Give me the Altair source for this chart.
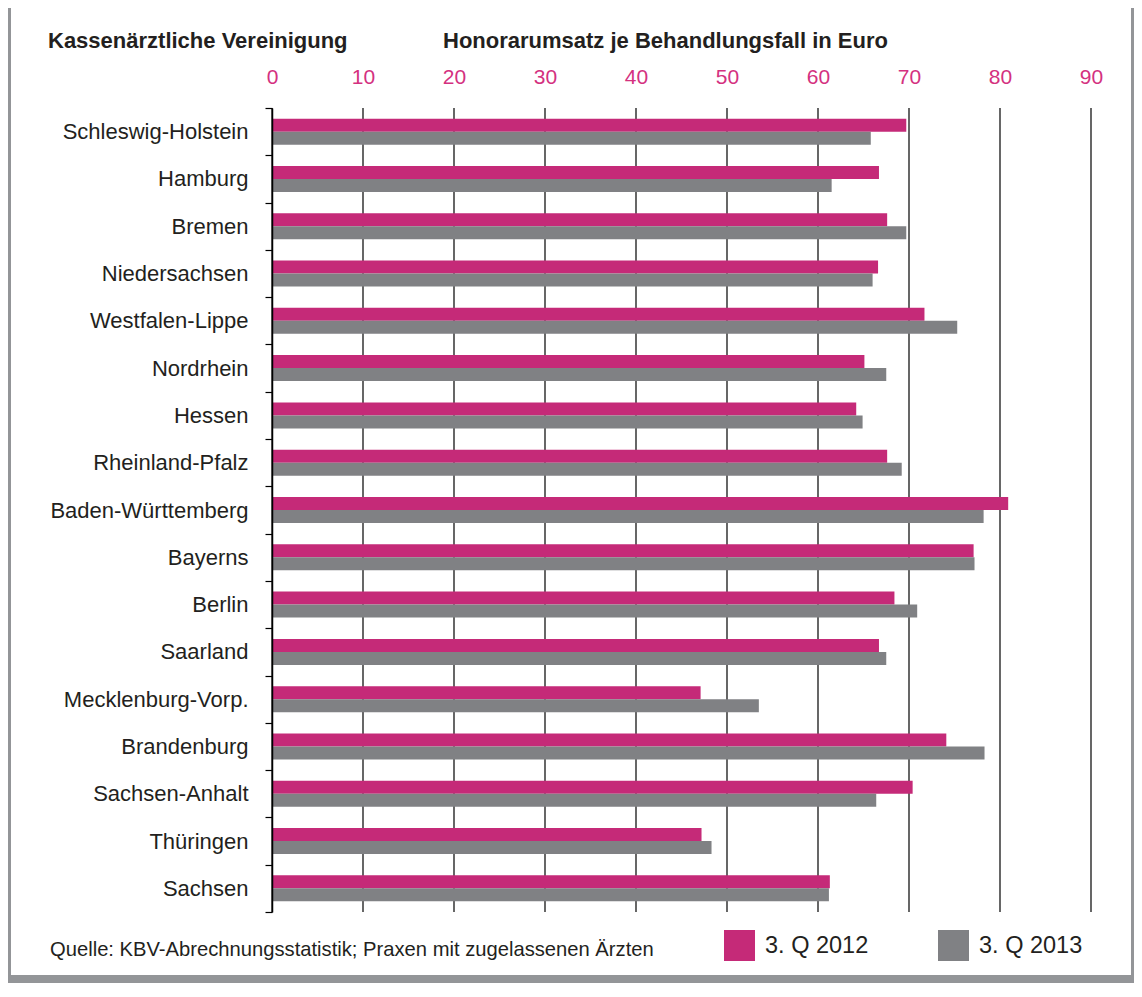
import altair as alt
import pandas as pd

# ---------------- data ----------------
regions = ["Schleswig-Holstein", "Hamburg", "Bremen", "Niedersachsen", "Westfalen-Lippe",
           "Nordrhein", "Hessen", "Rheinland-Pfalz", "Baden-Württemberg", "Bayerns",
           "Berlin", "Saarland", "Mecklenburg-Vorp.", "Brandenburg", "Sachsen-Anhalt",
           "Thüringen", "Sachsen"]
q2012 = [69.7, 66.7, 67.6, 66.6, 71.7, 65.1, 64.2, 67.6, 80.9, 77.1,
         68.4, 66.7, 47.1, 74.1, 70.4, 47.2, 61.3]
q2013 = [65.8, 61.5, 69.7, 66.0, 75.3, 67.5, 64.9, 69.2, 78.2, 77.2,
         70.9, 67.5, 53.5, 78.3, 66.4, 48.3, 61.2]
series = ["3. Q 2012", "3. Q 2013"]
x_ticks = [0, 10, 20, 30, 40, 50, 60, 70, 80, 90]
title_left = "Kassenärztliche Vereinigung"
title_right = "Honorarumsatz je Behandlungsfall in Euro"
source = "Quelle: KBV-Abrechnungsstatistik; Praxen mit zugelassenen Ärzten"

rows = []
for r, a, b in zip(regions, q2012, q2013):
    rows.append({"region": r, "series": series[0], "value": a})
    rows.append({"region": r, "series": series[1], "value": b})
df = pd.DataFrame(rows)

# ---------------- style ----------------
FONT = "Liberation Sans"
PINK = "#c52a78"
GRAY = "#808184"
TEXT = "#231f20"
W, H = 819, 804

one = pd.DataFrame({"k": [0]})

panel = alt.Chart(one).mark_rect(color="white").encode(
    x=alt.value(-261), x2=alt.value(859), y=alt.value(-108), y2=alt.value(867)
)

grid = alt.Chart(pd.DataFrame({"tick": x_ticks})).mark_rule(
    color="black", strokeWidth=1.2
).encode(x=alt.X("tick:Q", scale=alt.Scale(domain=[0, 90], nice=False)))

bars = alt.Chart(df).mark_bar(opacity=1).encode(
    x=alt.X("value:Q",
            scale=alt.Scale(domain=[0, 90], nice=False, zero=True),
            axis=alt.Axis(orient="top", values=x_ticks, title=None, grid=False,
                          ticks=False, tickSize=0, domain=False,
                          labelColor="#d4317f", labelFont=FONT, labelFontSize=21,
                          labelPadding=21, labelFlush=False, zindex=1)),
    y=alt.Y("region:N", sort=regions,
            scale=alt.Scale(paddingInner=0, paddingOuter=0),
            axis=alt.Axis(title=None, tickBand="extent", tickSize=7, tickColor="black",
                          tickWidth=1.2, domainColor="black", domainWidth=1.5,
                          labelFont=FONT, labelFontSize=22, labelColor=TEXT,
                          labelPadding=17, labelLimit=0, grid=False, zindex=1)),
    yOffset=alt.YOffset("series:N", sort=series,
                        scale=alt.Scale(paddingOuter=0.82, paddingInner=0)),
    color=alt.Color("series:N",
                    scale=alt.Scale(domain=series, range=[PINK, GRAY]),
                    legend=alt.Legend(orient="none", legendX=452, legendY=822,
                                      direction="horizontal", title=None,
                                      symbolType="square", symbolSize=961,
                                      symbolStrokeWidth=0, symbolOpacity=1,
                                      labelFont=FONT, labelFontSize=23.5,
                                      labelColor=TEXT, labelOffset=10, labelLimit=0,
                                      columnPadding=69, padding=0)),
)

t_left = alt.Chart(pd.DataFrame({"t": [title_left]})).mark_text(
    font=FONT, fontSize=22, fontWeight="bold", color=TEXT, align="left", baseline="alphabetic"
).encode(text="t:N", x=alt.value(-224), y=alt.value(-60))

t_right = alt.Chart(pd.DataFrame({"t": [title_right]})).mark_text(
    font=FONT, fontSize=22, fontWeight="bold", color=TEXT, align="left", baseline="alphabetic"
).encode(text="t:N", x=alt.value(171), y=alt.value(-60))

t_src = alt.Chart(pd.DataFrame({"t": [source]})).mark_text(
    font=FONT, fontSize=20.2, color=TEXT, align="left", baseline="alphabetic"
).encode(text="t:N", x=alt.value(-222), y=alt.value(848))

chart = alt.layer(panel, grid, bars, t_left, t_right, t_src).properties(
    width=W, height=H,
    background="#939598",
    autosize=alt.AutoSizeParams(type="none"),
    padding={"left": 264, "top": 100, "right": 43, "bottom": 71},
).configure_view(stroke=None).resolve_scale(x="shared")

chart.save("out.html", embed_options={"renderer": "svg", "actions": False})
